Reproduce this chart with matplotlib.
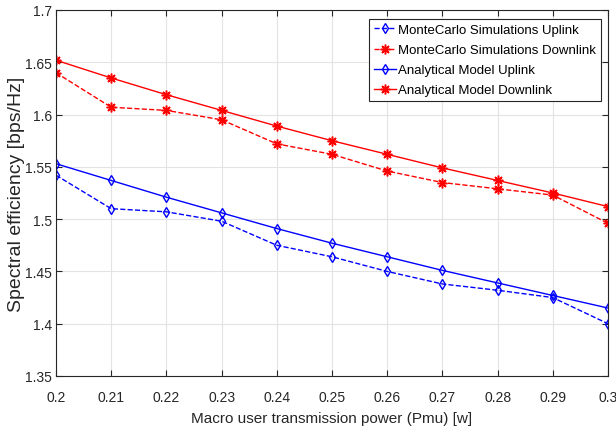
import matplotlib
matplotlib.use('Agg')
import matplotlib.pyplot as plt

plt.rcParams['font.family'] = ['Liberation Sans', 'DejaVu Sans']

pmu = [0.2, 0.21, 0.22, 0.23, 0.24, 0.25, 0.26, 0.27, 0.28, 0.29, 0.3]

mc_uplink = [1.542, 1.510, 1.507, 1.498, 1.475, 1.464, 1.450, 1.438, 1.432, 1.425, 1.400]
mc_downlink = [1.640, 1.607, 1.604, 1.595, 1.572, 1.562, 1.546, 1.535, 1.529, 1.523, 1.496]
an_uplink = [1.553, 1.537, 1.521, 1.506, 1.491, 1.477, 1.464, 1.451, 1.439, 1.427, 1.415]
an_downlink = [1.652, 1.635, 1.619, 1.604, 1.589, 1.575, 1.562, 1.549, 1.537, 1.525, 1.512]

xticks = [0.2, 0.21, 0.22, 0.23, 0.24, 0.25, 0.26, 0.27, 0.28, 0.29, 0.3]
yticks = [1.35, 1.4, 1.45, 1.5, 1.55, 1.6, 1.65, 1.7]

fig = plt.figure(figsize=(6.16, 4.31), dpi=100)
ax = fig.add_axes([56 / 616, 1 - 377 / 431, 552 / 616, 366 / 431])

ast = (8, 2, 0)  # matlab style asterisk
ax.plot(pmu, mc_uplink, '--', color='blue', marker='d', fillstyle='none', ms=5, mew=1, lw=1,
        label='MonteCarlo Simulations Uplink')
ax.plot(pmu, mc_downlink, '--', color='red', marker=ast, ms=7, mew=1.1, lw=1,
        label='MonteCarlo Simulations Downlink')
ax.plot(pmu, an_uplink, '-', color='blue', marker='d', fillstyle='none', ms=5, mew=1, lw=1,
        label='Analytical Model Uplink')
ax.plot(pmu, an_downlink, '-', color='red', marker=ast, ms=7, mew=1.1, lw=1,
        label='Analytical Model Downlink')

ax.set_xlim(0.2, 0.3)
ax.set_ylim(1.35, 1.7)
ax.set_xticks(xticks)
ax.set_xticklabels(['0.2', '0.21', '0.22', '0.23', '0.24', '0.25', '0.26', '0.27', '0.28', '0.29', '0.3'])
ax.set_yticks(yticks)
ax.set_yticklabels(['1.35', '1.4', '1.45', '1.5', '1.55', '1.6', '1.65', '1.7'])
ax.tick_params(direction='in', labelsize=10, top=True, right=True, length=4, colors='#262626')
ax.tick_params(axis='x', pad=10)
ax.tick_params(axis='y', pad=3)
ax.grid(True, color='#e3e3e3', lw=0.8)
ax.set_axisbelow(True)
for s in ax.spines.values():
    s.set_color('#262626')
    s.set_linewidth(0.8)

ax.set_xlabel('Macro user transmission power (Pmu) [w]', fontsize=11, color='#262626', labelpad=5)
ax.set_ylabel('Spectral efficiency [bps/Hz]', fontsize=14, color='#262626')
ax.yaxis.set_label_coords(-31 / 552, 0.5)

leg = ax.legend(loc='upper right', bbox_to_anchor=(0.987, 0.975), fontsize=9.5, fancybox=False,
                framealpha=1, edgecolor='#262626', borderpad=0.35, labelspacing=0.6,
                handlelength=1.7, handletextpad=0.15, borderaxespad=0)
leg.get_frame().set_linewidth(0.8)

fig.savefig('out.png', dpi=100)
